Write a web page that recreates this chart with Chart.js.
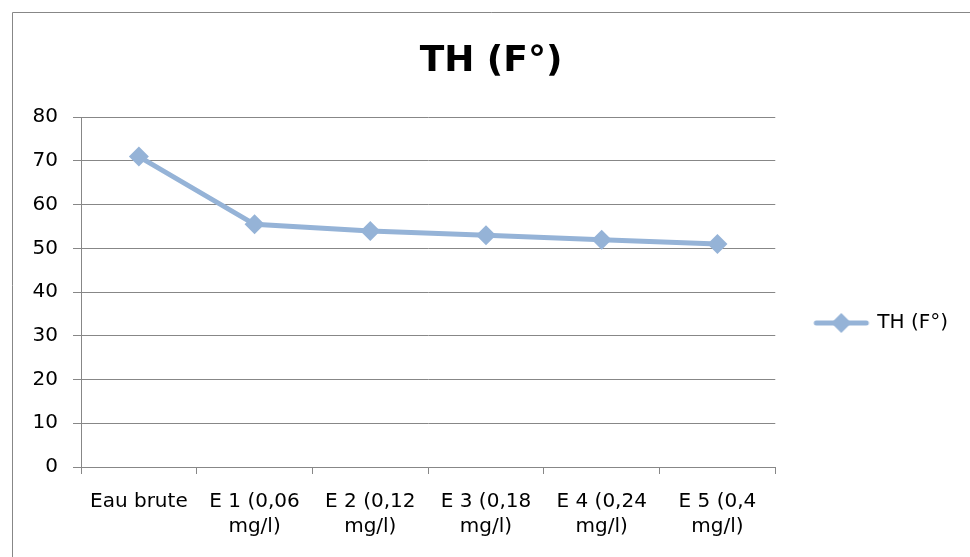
<!DOCTYPE html>
<html>
<head>
<meta charset="utf-8">
<title>TH (F°)</title>
<script src="https://cdn.jsdelivr.net/npm/chart.js@4/dist/chart.umd.min.js"></script>
<style>
  body { margin: 0; background: #ffffff; }
  #myChart { display: block; }
</style>
</head>
<body>
<canvas id="myChart" width="970" height="557"></canvas>
<script>
// values
let categoryLabels = [
  ["Eau brute"],
  ["E 1 (0,06", "mg/l)"],
  ["E 2 (0,12", "mg/l)"],
  ["E 3 (0,18", "mg/l)"],
  ["E 4 (0,24", "mg/l)"],
  ["E 5 (0,4", "mg/l)"],
];
let thValues = [71, 55.5, 54, 53, 52, 51];
let seriesName = "TH (F°)";
let yTicksMin = 0;
let yTicksMax = 80;
let yTicksStep = 10;

const lineColor = "#95b3d7";
const gridColor = "#878787";
const fontFamily = "'DejaVu Sans', sans-serif";

// legend sample: short line with a diamond in the middle
function returnLegendSample() {
  const c = document.createElement("canvas");
  c.width = 58;
  c.height = 22;
  const g = c.getContext("2d");
  g.strokeStyle = lineColor;
  g.lineWidth = 5;
  g.lineCap = "round";
  g.beginPath();
  g.moveTo(4, 11);
  g.lineTo(54, 11);
  g.stroke();
  g.fillStyle = lineColor;
  g.beginPath();
  g.moveTo(29, 1);
  g.lineTo(39, 11);
  g.lineTo(29, 21);
  g.lineTo(19, 11);
  g.closePath();
  g.fill();
  return c;
}

// outer frame of the chart object, only top and left are in the picture
const framePlugin = {
  id: "frame",
  beforeDraw(chart) {
    const ctx = chart.ctx;
    ctx.save();
    ctx.fillStyle = "#ffffff";
    ctx.fillRect(0, 0, chart.width, chart.height);
    ctx.strokeStyle = gridColor;
    ctx.lineWidth = 1;
    ctx.beginPath();
    ctx.moveTo(12.5, chart.height + 5);
    ctx.lineTo(12.5, 12.5);
    ctx.lineTo(chart.width + 5, 12.5);
    ctx.stroke();
    ctx.restore();
  },
};

function chart() {
  const ctx = document.getElementById("myChart");
  Chart.defaults.font.family = fontFamily;
  Chart.defaults.font.size = 20;
  Chart.defaults.color = "#000000";
  new Chart(ctx, {
    type: "line",
    data: returnData(),
    options: returnOptions(),
    plugins: [framePlugin],
  });
}

function returnData() {
  return {
    labels: categoryLabels,
    datasets: [
      {
        label: seriesName,
        data: thValues,
        borderColor: lineColor,
        backgroundColor: lineColor,
        borderWidth: 5,
        pointStyle: "rectRot",
        pointRadius: 10,
        pointHoverRadius: 10,
        pointBorderWidth: 0,
        tension: 0,
      },
    ],
  };
}

function returnOptions() {
  return {
    responsive: false,
    animation: false,
    layout: {
      padding: { left: 24, top: 12, right: 12, bottom: 0 },
    },
    scales: returnScalesSettings(),
    plugins: returnPluginsSettings(),
  };
}

function returnScalesSettings() {
  return {
    x: {
      offset: true,
      grid: {
        offset: true,
        drawOnChartArea: false,
        color: gridColor,
        tickLength: 7,
      },
      border: { color: gridColor },
      ticks: {
        maxRotation: 0,
        autoSkip: false,
        padding: 15,
        font: { lineHeight: 1.25 },
      },
      afterFit(scale) {
        scale.height = 90;
      },
    },
    y: {
      min: yTicksMin,
      max: yTicksMax,
      grid: {
        color: gridColor,
        tickLength: 8,
      },
      border: { color: gridColor },
      ticks: {
        stepSize: yTicksStep,
        padding: 15,
      },
      afterFit(scale) {
        scale.width = 57;
      },
    },
  };
}

function returnPluginsSettings() {
  return {
    title: {
      display: true,
      text: seriesName,
      color: "#000000",
      font: { size: 36, weight: "bold" },
      padding: { top: 28, bottom: 34 },
    },
    legend: {
      position: "right",
      maxWidth: 195,
      // empty legend title only pushes the entry down to where it sits in the picture
      title: {
        display: true,
        text: "",
        font: { size: 10 },
        padding: { top: 65, bottom: 0 },
      },
      labels: {
        usePointStyle: true,
        pointStyleWidth: 52,
        padding: 40,
        generateLabels() {
          return [
            {
              text: seriesName,
              pointStyle: returnLegendSample(),
              fillStyle: lineColor,
              strokeStyle: lineColor,
              lineWidth: 0,
              datasetIndex: 0,
            },
          ];
        },
      },
    },
    tooltip: { enabled: false },
  };
}

chart();
</script>
</body>
</html>
